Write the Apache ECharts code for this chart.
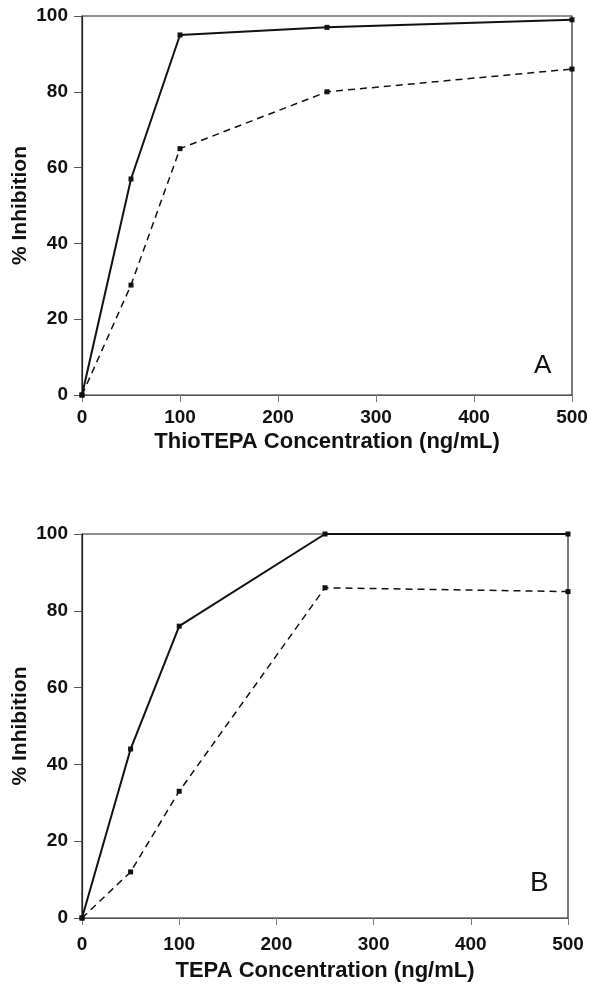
<!DOCTYPE html>
<html>
<head>
<meta charset="utf-8">
<script src="https://cdn.jsdelivr.net/npm/echarts@6/dist/echarts.min.js"></script>
<style>
  html, body { margin: 0; padding: 0; background: #fff; }
  #chartmain { width: 589px; height: 993px; }
</style>
</head>
<body>
<div id="chartmain"></div>
<script>
// concentrations (ng/mL)
var conc = [0, 50, 100, 250, 500];
// panel A: ThioTEPA
var thioSolid = [0, 57, 95, 97, 99];
var thioDashed = [0, 29, 65, 80, 86];
// panel B: TEPA
var tepaSolid = [0, 44, 76, 100, 100];
var tepaDashed = [0, 12, 33, 86, 85];

var xNames = ['ThioTEPA Concentration (ng/mL)', 'TEPA Concentration (ng/mL)'];
var panelLetters = ['A', 'B'];

function pairs(xs, ys) {
    var out = [];
    for (var i = 0; i < xs.length; i++) out.push([xs[i], ys[i]]);
    return out;
}

var font = 'Liberation Sans, Arial, sans-serif';

function xAxis(idx, labelMargin, nameGap) {
    return {
        gridIndex: idx, type: 'value', min: 0, max: 500, interval: 100,
        name: xNames[idx], nameLocation: 'middle', nameGap: nameGap, nameMoveOverlap: false,
        nameTextStyle: { fontFamily: font, fontWeight: 'bold', fontSize: 22, color: '#111' },
        axisLine: { show: true, lineStyle: { color: '#555', width: 1.2 } },
        axisTick: { show: true, length: 7, lineStyle: { color: '#777' } },
        axisLabel: { fontFamily: font, fontWeight: 'bold', fontSize: 19, color: '#111', margin: labelMargin },
        splitLine: { show: false }
    };
}
function yAxis(idx) {
    return {
        gridIndex: idx, type: 'value', min: 0, max: 100, interval: 20,
        name: '% Inhibition', nameLocation: 'middle', nameGap: 62, nameMoveOverlap: false,
        nameTextStyle: { fontFamily: font, fontWeight: 'bold', fontSize: 21, color: '#111', verticalAlign: 'middle' },
        axisLine: { show: true, lineStyle: { color: '#222', width: 1.2 } },
        axisTick: { show: true, length: 8, lineStyle: { color: '#555' } },
        axisLabel: { fontFamily: font, fontWeight: 'bold', fontSize: 19, color: '#111', margin: 14 },
        splitLine: { show: false }
    };
}
function line(idx, xs, ys, dashed) {
    return {
        type: 'line', xAxisIndex: idx, yAxisIndex: idx,
        data: pairs(xs, ys),
        symbol: 'rect', symbolSize: 5, showSymbol: true,
        itemStyle: { color: '#111' },
        lineStyle: { color: '#111', width: dashed ? 1.5 : 2, type: dashed ? [7, 5] : 'solid' },
        animation: false, silent: true
    };
}

var option = {
    backgroundColor: '#fff',
    grid: [
        { left: 82, right: 17, top: 16, height: 379, show: true, borderColor: '#222', borderWidth: 1.2,
          containLabel: false, outerBoundsMode: 'none' },
        { left: 82, right: 21, top: 534, height: 384, show: true, borderColor: '#222', borderWidth: 1.2,
          containLabel: false, outerBoundsMode: 'none' }
    ],
    xAxis: [xAxis(0, 13, 36), xAxis(1, 17, 42)],
    yAxis: [yAxis(0), yAxis(1)],
    series: [
        line(0, conc, thioSolid, false),
        line(0, conc, thioDashed, true),
        line(1, conc, tepaSolid, false),
        line(1, conc, tepaDashed, true)
    ],
    graphic: [
        { type: 'text', left: 534, top: 353, style: { text: panelLetters[0], font: '26px ' + font, fill: '#111' } },
        { type: 'text', left: 530, top: 869, style: { text: panelLetters[1], font: '28px ' + font, fill: '#111' } }
    ]
};

var myChart = echarts.init(document.getElementById('chartmain'));
myChart.setOption(option);
</script>
</body>
</html>
